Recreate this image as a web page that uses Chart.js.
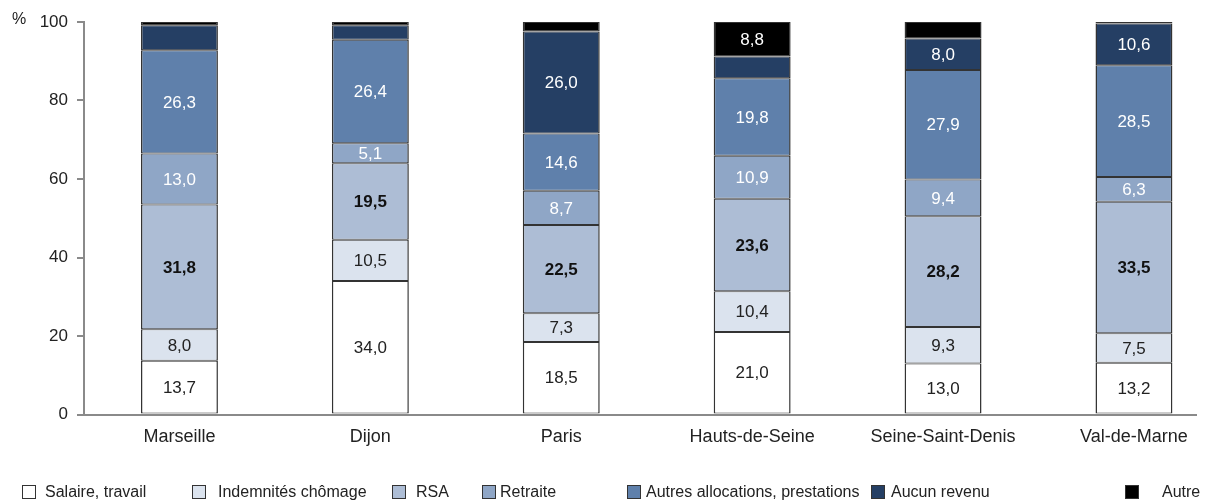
<!DOCTYPE html>
<html>
<head>
<meta charset="utf-8">
<script src="https://cdn.jsdelivr.net/npm/chart.js@4/dist/chart.umd.min.js"></script>
<style>
  html, body { margin: 0; padding: 0; background: #fff; overflow: hidden; }
  #wrap { position: relative; width: 1216px; height: 504px; }
  #legend { position: absolute; left: 0; top: 483px; width: 1216px; height: 18px;
            font: 16px "Liberation Sans", Arial, sans-serif; color: #222; }
  .item { position: absolute; top: 0; height: 18px; display: flex; align-items: center; white-space: nowrap; }
  .box { width: 14px; height: 14px; border: 1px solid #333; box-sizing: border-box; }
</style>
</head>
<body>
<div id="wrap">
  <canvas id="chart" width="1216" height="504"></canvas>
  <div id="legend"></div>
</div>
<script>
// data
const cities = ['Marseille', 'Dijon', 'Paris', 'Hauts-de-Seine', 'Seine-Saint-Denis', 'Val-de-Marne'];
const salaire = [13.7, 34.0, 18.5, 21.0, 13.0, 13.2];
const indemnites = [8.0, 10.5, 7.3, 10.4, 9.3, 7.5];
const rsa = [31.8, 19.5, 22.5, 23.6, 28.2, 33.5];
const retraite = [13.0, 5.1, 8.7, 10.9, 9.4, 6.3];
const autresAlloc = [26.3, 26.4, 14.6, 19.8, 27.9, 28.5];
const aucunRevenu = [6.4, 3.7, 26.0, 5.5, 8.0, 10.6];
const autre = [0.8, 0.8, 2.4, 8.8, 4.2, 0.4];
const yTicks = [0, 20, 40, 60, 80, 100];

const FONT = '"Liberation Sans", Arial, sans-serif';

// label, values, fill, text colour, bold, smallest value that gets a label
const series = [
  ['Salaire, travail', salaire, '#ffffff', '#222', false, 5],
  ['Indemnités chômage', indemnites, '#dbe3ee', '#222', false, 5],
  ['RSA', rsa, '#adbdd5', '#111', true, 5],
  ['Retraite', retraite, '#8fa6c6', '#fff', false, 5],
  ['Autres allocations, prestations', autresAlloc, '#5f80ab', '#fff', false, 5],
  ['Aucun revenu', aucunRevenu, '#253f64', '#fff', false, 7],
  ['Autre', autre, '#000000', '#fff', false, 7],
];

// legend layout (box left, gap to text)
const legendLeft = [22, 192, 392, 482, 627, 871, 1125];
const legendGap = [9, 12, 10, 4, 5, 6, 23];

const segmentLabels = {
  id: 'segmentLabels',
  afterDatasetsDraw(chart) {
    const ctx = chart.ctx;
    chart.data.datasets.forEach((ds, di) => {
      const meta = chart.getDatasetMeta(di);
      meta.data.forEach((bar, i) => {
        const v = ds.data[i].y;
        if (v < ds.minLabel) return;
        ctx.save();
        ctx.font = (ds.bold ? 'bold ' : '') + '17px ' + FONT;
        ctx.fillStyle = ds.textColor;
        ctx.textAlign = 'center';
        ctx.textBaseline = 'middle';
        ctx.fillText(v.toFixed(1).replace('.', ','), bar.x, (bar.y + bar.base) / 2 + 1);
        ctx.restore();
      });
    });
  },
  afterDraw(chart) {
    const ctx = chart.ctx;
    ctx.save();
    ctx.font = '16px ' + FONT;
    ctx.fillStyle = '#222';
    ctx.textAlign = 'left';
    ctx.textBaseline = 'middle';
    ctx.fillText('%', 12, chart.scales.y.getPixelForValue(100) - 2);
    ctx.restore();
  }
};

const ctx = document.getElementById('chart').getContext('2d');

new Chart(ctx, {
  type: 'bar',
  data: {
    datasets: series.map(s => ({
      label: s[0],
      data: s[1].map((v, i) => ({ x: i, y: v })),
      backgroundColor: s[2],
      borderColor: '#333',
      borderWidth: { left: 1.5, right: 1.5, top: 1, bottom: 1 },
      borderSkipped: false,
      textColor: s[3],
      bold: s[4],
      minLabel: s[5],
      categoryPercentage: 1,
      barPercentage: 0.403,
    })),
  },
  options: {
    responsive: false,
    animation: false,
    devicePixelRatio: 1,
    layout: { padding: { top: 22, right: 20, bottom: 49.5, left: 0 } },
    plugins: {
      legend: { display: false },
      tooltip: { enabled: false },
    },
    scales: {
      x: {
        type: 'linear',
        stacked: true,
        offset: false,
        min: -0.5,
        max: 5.325,
        afterFit: (scale) => { scale.height = 40; },
        grid: { display: false, drawTicks: false, offset: false },
        border: { display: true, color: '#8a8a8a', width: 2 },
        ticks: {
          stepSize: 1,
          includeBounds: false,
          autoSkip: false,
          maxRotation: 0,
          padding: 12,
          color: '#222',
          font: { family: FONT, size: 18 },
          callback: (v) => Number.isInteger(v) ? cities[v] : '',
        },
      },
      y: {
        stacked: true,
        min: 0,
        max: 100,
        afterFit: (scale) => { scale.width = 84; },
        afterBuildTicks: (scale) => { scale.ticks = yTicks.map(v => ({ value: v })); },
        grid: { drawOnChartArea: false, drawTicks: true, tickLength: 7, color: '#8a8a8a', lineWidth: 2 },
        border: { display: true, color: '#8a8a8a', width: 2 },
        ticks: {
          padding: 9,
          color: '#222',
          font: { family: FONT, size: 17 },
        },
      },
    },
  },
  plugins: [segmentLabels],
});

// legend
const legend = document.getElementById('legend');
series.forEach((s, i) => {
  const item = document.createElement('div');
  item.className = 'item';
  item.style.left = legendLeft[i] + 'px';
  const box = document.createElement('span');
  box.className = 'box';
  box.style.background = s[2];
  box.style.marginRight = legendGap[i] + 'px';
  const text = document.createElement('span');
  text.textContent = s[0];
  item.appendChild(box);
  item.appendChild(text);
  legend.appendChild(item);
});
</script>
</body>
</html>
